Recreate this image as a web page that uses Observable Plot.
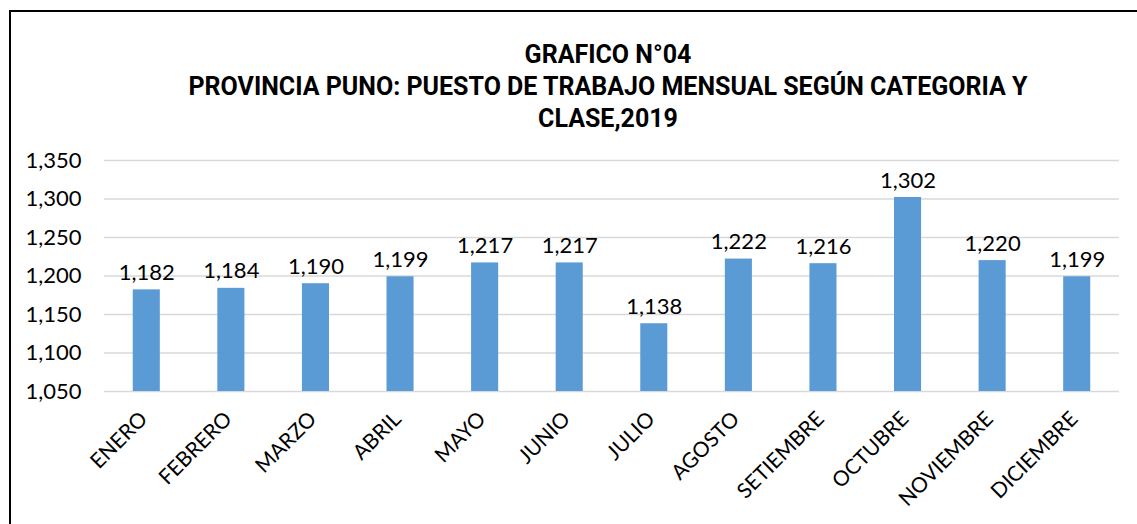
<!DOCTYPE html>
<html>
<head>
<meta charset="utf-8">
<script src="https://cdn.jsdelivr.net/npm/d3@7"></script>
<script src="https://cdn.jsdelivr.net/npm/@observablehq/plot@0.6"></script>
<style>
  html, body { margin: 0; padding: 0; background: #fff; overflow: hidden; }
  #wrap { position: relative; width: 1137px; height: 524px; background: #fff; }
  #frame { position: absolute; left: 9px; top: 10px; right: -5px; bottom: -5px;
           border-left: 2px solid #000; border-top: 2px solid #000; }
  #title { position: absolute; left: 108px; width: 1000px; top: 39px; text-align: center;
           font-family: Roboto, "Liberation Sans", sans-serif;
           font-weight: bold; font-size: 25px; line-height: 32px; color: #000; white-space: nowrap; }
  #chart { position: absolute; left: 0; top: 140px; }
</style>
</head>
<body>
<div id="wrap">
  <div id="frame"></div>
  <div id="title">GRAFICO N°04<br>PROVINCIA PUNO: PUESTO DE TRABAJO MENSUAL SEGÚN CATEGORIA Y<br>CLASE,2019</div>
  <div id="chart"></div>
</div>
<script>
const months = ["ENERO","FEBRERO","MARZO","ABRIL","MAYO","JUNIO","JULIO","AGOSTO","SETIEMBRE","OCTUBRE","NOVIEMBRE","DICIEMBRE"];
const puestos = [1182, 1184, 1190, 1199, 1217, 1217, 1138, 1222, 1216, 1302, 1220, 1199];
const yTicks = [1050, 1100, 1150, 1200, 1250, 1300, 1350];

const data = months.map((m, i) => ({mes: m, valor: puestos[i]}));
const fmt = d3.format(",");

const chart = Plot.plot({
  width: 1137,
  height: 384,
  marginTop: 20,
  marginBottom: 133,
  marginLeft: 104,
  marginRight: 18,
  style: {fontFamily: "Lato, 'Open Sans', sans-serif", fontSize: "22px", color: "#000", background: "transparent"},
  x: {domain: months, paddingInner: 0.68, paddingOuter: 0.34, round: false, label: null},
  y: {domain: [yTicks[0], yTicks[yTicks.length - 1]], ticks: yTicks, label: null},
  marks: [
    Plot.gridY(yTicks, {stroke: "#d9d9d9", strokeOpacity: 1, strokeWidth: 1.5}),
    Plot.barY(data, {x: "mes", y1: () => yTicks[0], y2: "valor", fill: "#5b9bd5"}),
    Plot.text(data, {x: "mes", y: "valor", text: d => fmt(d.valor), dy: -17, fill: "#000", fontSize: 22}),
    Plot.axisY(yTicks, {tickSize: 0, tickPadding: 23, tickFormat: fmt, fontSize: 22, label: null}),
    Plot.axisX({tickRotate: -45, tickSize: 0, tickPadding: 24, dx: -3, fontSize: 21, label: null})
  ]
});
document.getElementById("chart").appendChild(chart);
</script>
</body>
</html>
